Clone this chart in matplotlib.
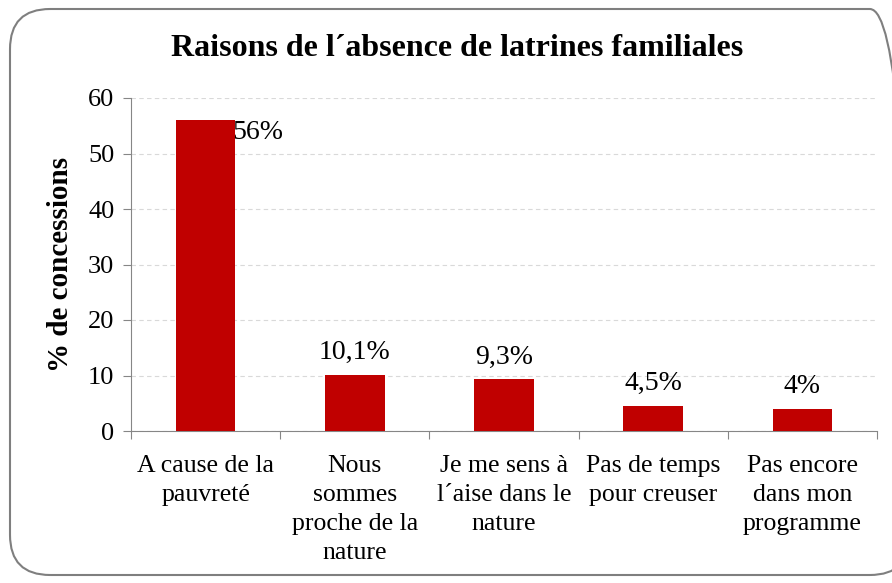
import matplotlib
matplotlib.use("Agg")
import matplotlib.pyplot as plt
from matplotlib.patches import FancyBboxPatch

categories = ["A cause de la\npauvreté", "Nous\nsommes\nproche de la\nnature",
              "Je me sens à\nl´aise dans le\nnature", "Pas de temps\npour creuser",
              "Pas encore\ndans mon\nprogramme"]
values = [56, 10.1, 9.3, 4.5, 4]
value_labels = ["56%", "10,1%", "9,3%", "4,5%", "4%"]
yticks = [0, 10, 20, 30, 40, 50, 60]

plt.rcParams['font.family'] = ['Liberation Serif', 'DejaVu Serif']

fig = plt.figure(figsize=(8.92, 5.83), dpi=100)
border = FancyBboxPatch((10/892, 8/583), 900/892, 566/583,
                        boxstyle="round,pad=0,rounding_size=0.045",
                        transform=fig.transFigure, fill=False,
                        edgecolor="#7f7f7f", linewidth=1.5, mutation_aspect=892/583)
fig.patches.append(border)

ax = fig.add_axes([131/892, 1-431/583, (877-131)/892, (431-98)/583])
x = list(range(len(categories)))
ax.bar(x, values, width=0.4, color="#C00000", zorder=3)
ax.set_xlim(-0.5, len(categories)-0.5)
ax.set_ylim(0, 60)
ax.set_yticks(yticks)
ax.set_yticklabels([str(t) for t in yticks], fontsize=19)
ax.yaxis.grid(True, linestyle=(0, (4, 3)), color="#d9d9d9", linewidth=0.8, zorder=0)
ax.set_xticks([i - 0.5 for i in range(len(categories)+1)])
ax.set_xticklabels([])
ax.set_xticks(x, minor=True)
ax.set_xticklabels(categories, minor=True, fontsize=18.5, linespacing=1.42)
ax.tick_params(axis='x', which='minor', length=0, pad=17)
ax.tick_params(axis='x', which='major', length=6, color="#868686")
ax.tick_params(axis='y', length=6, color="#868686", pad=6)
for s in ["top", "right"]:
    ax.spines[s].set_visible(False)
for s in ["left", "bottom"]:
    ax.spines[s].set_color("#868686")

for i, (v, lab) in enumerate(zip(values, value_labels)):
    if i == 0:
        ax.annotate(lab, (i + 0.35, v), xytext=(0, 0), textcoords="offset points",
                    ha="center", va="top", fontsize=20, zorder=2)
    else:
        ax.annotate(lab, (i, v), xytext=(0, 7), textcoords="offset points",
                    ha="center", va="bottom", fontsize=20)

ax.set_ylabel("% de concessions", fontsize=21, fontweight="bold", labelpad=10)
fig.text(457/892, 1-48/583, "Raisons de l´absence de latrines familiales",
         ha="center", va="center", fontsize=23, fontweight="bold")

fig.savefig("out.png", dpi=100)
